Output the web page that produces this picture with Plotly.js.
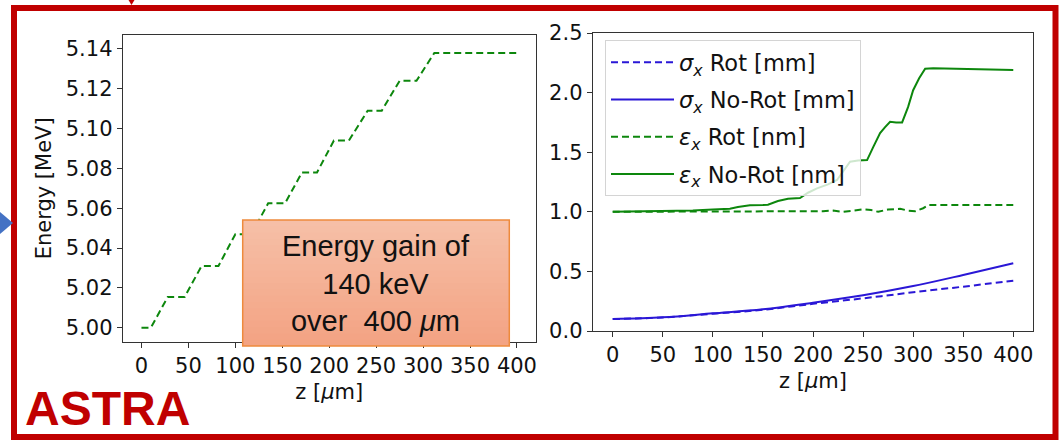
<!DOCTYPE html>
<html>
<head>
<meta charset="utf-8">
<script src="https://cdn.plot.ly/plotly-3.0.1.min.js"></script>
<style>
html,body{margin:0;padding:0;background:#fff;}
#chart{width:1064px;height:441px;}
</style>
</head>
<body>
<div id="chart"></div>
<script>
// ---- Left panel: energy along z ----
const energyZ = [0, 10, 28, 46, 64, 82, 100, 117, 135, 153, 171, 187, 205, 221, 241, 256, 275, 293, 312, 401];
const energyMeV = [5.000, 5.000, 5.0155, 5.0155, 5.031, 5.031, 5.047, 5.047, 5.0625, 5.0625,
                   5.078, 5.078, 5.094, 5.094, 5.109, 5.109, 5.124, 5.124, 5.138, 5.138];

// ---- Right panel: beam size and emittance ----
const sigmaZ = [0, 50, 100, 150, 200, 250, 300, 350, 400];
const sigmaRot = [0.100, 0.114, 0.145, 0.178, 0.228, 0.274, 0.325, 0.372, 0.422];
const sigmaNoRot = [0.100, 0.115, 0.148, 0.182, 0.237, 0.300, 0.377, 0.470, 0.568];

const epsRotZ = [0, 100, 200, 210, 220, 230, 240, 250, 258, 265, 275, 287, 295, 302, 310, 316, 400];
const epsRot = [1.000, 1.000, 1.000, 1.005, 1.010, 1.000, 1.010, 1.020, 1.015, 1.000, 1.020, 1.025, 1.010, 1.005, 1.030, 1.058, 1.058];

const epsNoRotZ = [0, 50, 80, 100, 117, 125, 137, 150, 155, 165, 175, 187, 195, 204, 215, 224, 232, 237,
                   245, 254, 260, 267, 272, 277, 283, 289, 295, 300, 306, 312, 320, 400];
const epsNoRot = [1.000, 1.003, 1.010, 1.020, 1.025, 1.040, 1.055, 1.057, 1.060, 1.090, 1.110, 1.115, 1.160, 1.197,
                  1.230, 1.267, 1.360, 1.420, 1.430, 1.434, 1.540, 1.660, 1.710, 1.755, 1.750, 1.750, 1.880,
                  2.020, 2.120, 2.200, 2.205, 2.190];

const legendNames = [
  '<i>σ</i><sub><i>x</i></sub> Rot [mm]',
  '<i>σ</i><sub><i>x</i></sub> No-Rot [mm]',
  '<i>ε</i><sub><i>x</i></sub> Rot [nm]',
  '<i>ε</i><sub><i>x</i></sub> No-Rot [nm]'
];
const xTitle = 'z [<i>μ</i>m]';
const yTitleLeft = 'Energy [MeV]';
const boxText = 'Energy gain of<br>140 keV<br>over\u00a0 400 <i>μ</i>m';
const brandText = 'ASTRA';

(function () {
// ---- layout helpers (pixel -> paper) ----
const W = 1064, H = 441;
const px = x => x / W;
const py = y => 1 - y / H;

const GREEN = '#0d870d';
const BLUE = '#2a17d6';
const RED = '#c00000';

const traces = [
  {x: energyZ, y: energyMeV, xaxis: 'x', yaxis: 'y', mode: 'lines', showlegend: false,
   line: {color: GREEN, width: 2, dash: '7px,4px'}},
  {x: sigmaZ, y: sigmaRot, xaxis: 'x2', yaxis: 'y2', mode: 'lines', name: legendNames[0], legendgroup: 'a',
   line: {color: BLUE, width: 2, dash: '7px,4px', shape: 'spline'}},
  {x: sigmaZ, y: sigmaNoRot, xaxis: 'x2', yaxis: 'y2', mode: 'lines', name: legendNames[1], legendgroup: 'b',
   line: {color: BLUE, width: 2, shape: 'spline'}},
  {x: epsRotZ, y: epsRot, xaxis: 'x2', yaxis: 'y2', mode: 'lines', name: legendNames[2], legendgroup: 'c',
   line: {color: GREEN, width: 2, dash: '7px,4px'}},
  {x: epsNoRotZ, y: epsNoRot, xaxis: 'x2', yaxis: 'y2', mode: 'lines', name: legendNames[3], legendgroup: 'd',
   line: {color: GREEN, width: 2}}
];

const axisCommon = {
  showline: true, mirror: true, linecolor: '#333', linewidth: 1,
  ticks: 'outside', ticklen: 5, tickwidth: 1, tickcolor: '#333',
  showgrid: false, zeroline: false, tickangle: 0,
  tickfont: {size: 21, color: '#111', family: 'DejaVu Sans'}
};

// gradient box made of overlapping bands
const bx0 = 242.7, bx1 = 509.3, by0 = 220, by1 = 346;
const cTop = [246, 192, 168], cBot = [243, 162, 130];
const shapes = [];
const nb = 20;
for (let i = 0; i < nb; i++) {
  const t = (i + 0.5) / nb;
  const c = cTop.map((v, k) => Math.round(v + (cBot[k] - v) * t));
  const yTop = by0 + (by1 - by0) * i / nb;
  const yBot = Math.min(by1, by0 + (by1 - by0) * (i + 1) / nb + 1.5);
  shapes.push({type: 'rect', xref: 'paper', yref: 'paper', layer: 'above',
    x0: px(bx0), x1: px(bx1), y0: py(yBot), y1: py(yTop),
    fillcolor: `rgb(${c[0]},${c[1]},${c[2]})`, line: {width: 0}});
}
shapes.push({type: 'rect', xref: 'paper', yref: 'paper', layer: 'above',
  x0: px(bx0), x1: px(bx1), y0: py(by1), y1: py(by0),
  fillcolor: 'rgba(0,0,0,0)', line: {color: '#ee8a3c', width: 1.5}});
// red frame
shapes.push({type: 'rect', xref: 'paper', yref: 'paper', layer: 'above',
  x0: px(14), x1: px(1055.5), y0: py(437), y1: py(8),
  fillcolor: 'rgba(0,0,0,0)', line: {color: RED, width: 6}});
// blue arrow head on the left
shapes.push({type: 'path', xref: 'paper', yref: 'paper', layer: 'above',
  path: `M ${px(0)} ${py(212)} L ${px(13)} ${py(223)} L ${px(0)} ${py(234)} Z`,
  fillcolor: '#4472c4', line: {width: 0}});
// small red arrow tip at top
shapes.push({type: 'path', xref: 'paper', yref: 'paper', layer: 'above',
  path: `M ${px(128.5)} ${py(0)} L ${px(134.5)} ${py(0)} L ${px(131.5)} ${py(5)} Z`,
  fillcolor: RED, line: {width: 0}});

const layout = {
  width: W, height: H,
  margin: {l: 0, r: 0, t: 0, b: 0},
  paper_bgcolor: '#fff', plot_bgcolor: '#fff',
  font: {family: 'DejaVu Sans', color: '#111', size: 21},
  showlegend: true,
  legend: {
    x: px(605), y: py(40), xanchor: 'left', yanchor: 'top',
    bgcolor: 'rgba(255,255,255,0.8)', bordercolor: '#d4d4d4', borderwidth: 1,
    font: {family: 'DejaVu Sans', size: 22.5, color: '#111'},
    tracegroupgap: 5, itemwidth: 63
  },
  xaxis: Object.assign({}, axisCommon, {
    domain: [px(122.7), px(535.7)], range: [-20, 420], tick0: 0, dtick: 50, anchor: 'y',
    title: {text: xTitle, font: {size: 21, color: '#111'}, standoff: 7}
  }),
  yaxis: Object.assign({}, axisCommon, {
    domain: [py(341.7), py(35)], range: [4.993, 5.147], tick0: 5.0, dtick: 0.02, tickformat: '.2f', anchor: 'x',
    title: {text: yTitleLeft, font: {size: 21, color: '#111'}, standoff: 8}
  }),
  xaxis2: Object.assign({}, axisCommon, {
    domain: [px(592.7), px(1033.3)], range: [-20, 420], tick0: 0, dtick: 50, anchor: 'y2',
    title: {text: xTitle, font: {size: 21, color: '#111'}, standoff: 7}
  }),
  yaxis2: Object.assign({}, axisCommon, {
    domain: [py(331), py(33)], range: [0, 2.5], tick0: 0, dtick: 0.5, tickformat: '.1f', anchor: 'x2'
  }),
  shapes: shapes,
  annotations: [
    {xref: 'paper', yref: 'paper', x: px((bx0 + bx1) / 2), y: py(283), xanchor: 'center', yanchor: 'middle',
     text: boxText, showarrow: false, align: 'center',
     font: {family: 'Liberation Sans', size: 29, color: '#111'}},
    {xref: 'paper', yref: 'paper', x: px(23), y: py(408), xanchor: 'left', yanchor: 'middle',
     text: '<b>' + brandText + '</b>', showarrow: false,
     font: {family: 'Liberation Sans', size: 48, color: RED}}
  ]
};

Plotly.newPlot('chart', traces, layout, {staticPlot: true, displayModeBar: false});
})();
</script>
</body>
</html>
